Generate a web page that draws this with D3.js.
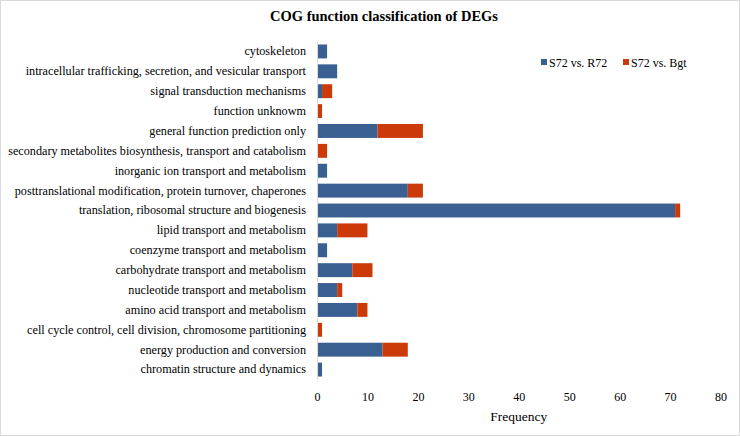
<!DOCTYPE html>
<html><head><meta charset="utf-8">
<script src="https://cdn.jsdelivr.net/npm/d3@7"></script>
<style>
body{margin:0;background:#fff}
svg{display:block}
svg text{font-family:"Liberation Serif","Times New Roman","DejaVu Serif",serif;fill:#000}
</style>
</head><body>
<script>
const categories = [
  "cytoskeleton",
  "intracellular trafficking, secretion, and vesicular transport",
  "signal transduction mechanisms",
  "function unknowm",
  "general function prediction only",
  "secondary metabolites biosynthesis, transport and catabolism",
  "inorganic ion transport and metabolism",
  "posttranslational modification, protein turnover, chaperones",
  "translation, ribosomal structure and biogenesis",
  "lipid transport and metabolism",
  "coenzyme transport and metabolism",
  "carbohydrate transport and metabolism",
  "nucleotide transport and metabolism",
  "amino acid transport and metabolism",
  "cell cycle control, cell division, chromosome partitioning",
  "energy production and conversion",
  "chromatin structure and dynamics"
];
const seriesNames = ["S72 vs. R72", "S72 vs. Bgt"];
const s72vsR72 = [2, 4, 1, 0, 12, 0, 2, 18, 71, 4, 2, 7, 4, 8, 0, 13, 1];
const s72vsBgt = [0, 0, 2, 1, 9, 2, 0, 3, 1, 6, 0, 4, 1, 2, 1, 5, 0];
const xTicks = [0, 10, 20, 30, 40, 50, 60, 70, 80];
const colors = ["#3A6092", "#CC3A0A"];

const W = 740, H = 436;
const svg = d3.select("body").append("svg").attr("width", W).attr("height", H);
svg.append("rect").attr("x", 0.5).attr("y", 0.5).attr("width", W - 1).attr("height", H - 1)
  .attr("fill", "#fff").attr("stroke", "#d9d9d9");

const x = d3.scaleLinear().domain([0, 80]).range([317, 720.5]);
const y = d3.scaleBand().domain(categories).range([41.5, 379.5]).paddingInner(0.3).paddingOuter(0.15);

svg.append("text").attr("x", 384).attr("y", 21).attr("text-anchor", "middle")
  .style("font-weight", "bold").style("font-size", "14.5px")
  .text("COG function classification of DEGs");

const rows = categories.map((c, i) => ({c, a: s72vsR72[i], b: s72vsBgt[i]}));
const stack = d3.stack().keys(["a", "b"])(rows);
stack.forEach((layer, k) => {
  svg.append("g").attr("fill", colors[k]).selectAll("rect").data(layer).join("rect")
    .attr("x", d => x(d[0])).attr("width", d => x(d[1]) - x(d[0]))
    .attr("y", d => y(d.data.c)).attr("height", y.bandwidth());
});

// y axis
const ya = svg.append("g").attr("transform", `translate(${x(0)},0)`)
  .call(d3.axisLeft(y).tickSize(0).tickPadding(11));
ya.select(".domain").attr("stroke", "#d9d9d9").attr("d", `M0.5,41.5V379.5`);
ya.selectAll("text").style("font-size", "12.2px");

// x axis
const xa = svg.append("g").attr("transform", `translate(0,389)`)
  .call(d3.axisBottom(x).tickValues(xTicks).tickSize(0).tickPadding(3));
xa.select(".domain").remove();
xa.selectAll("text").style("font-size", "12px");

svg.append("text").attr("x", x(40)).attr("y", 421).attr("text-anchor", "middle")
  .style("font-size", "13.5px").text("Frequency");

// legend
const lx = [541, 623];
seriesNames.forEach((n, i) => {
  svg.append("rect").attr("x", lx[i]).attr("y", 59).attr("width", 6).attr("height", 6).attr("fill", colors[i]);
  svg.append("text").attr("x", lx[i] + 8).attr("y", 66.5).style("font-size", "12px").text(n);
});
</script>
</body></html>
